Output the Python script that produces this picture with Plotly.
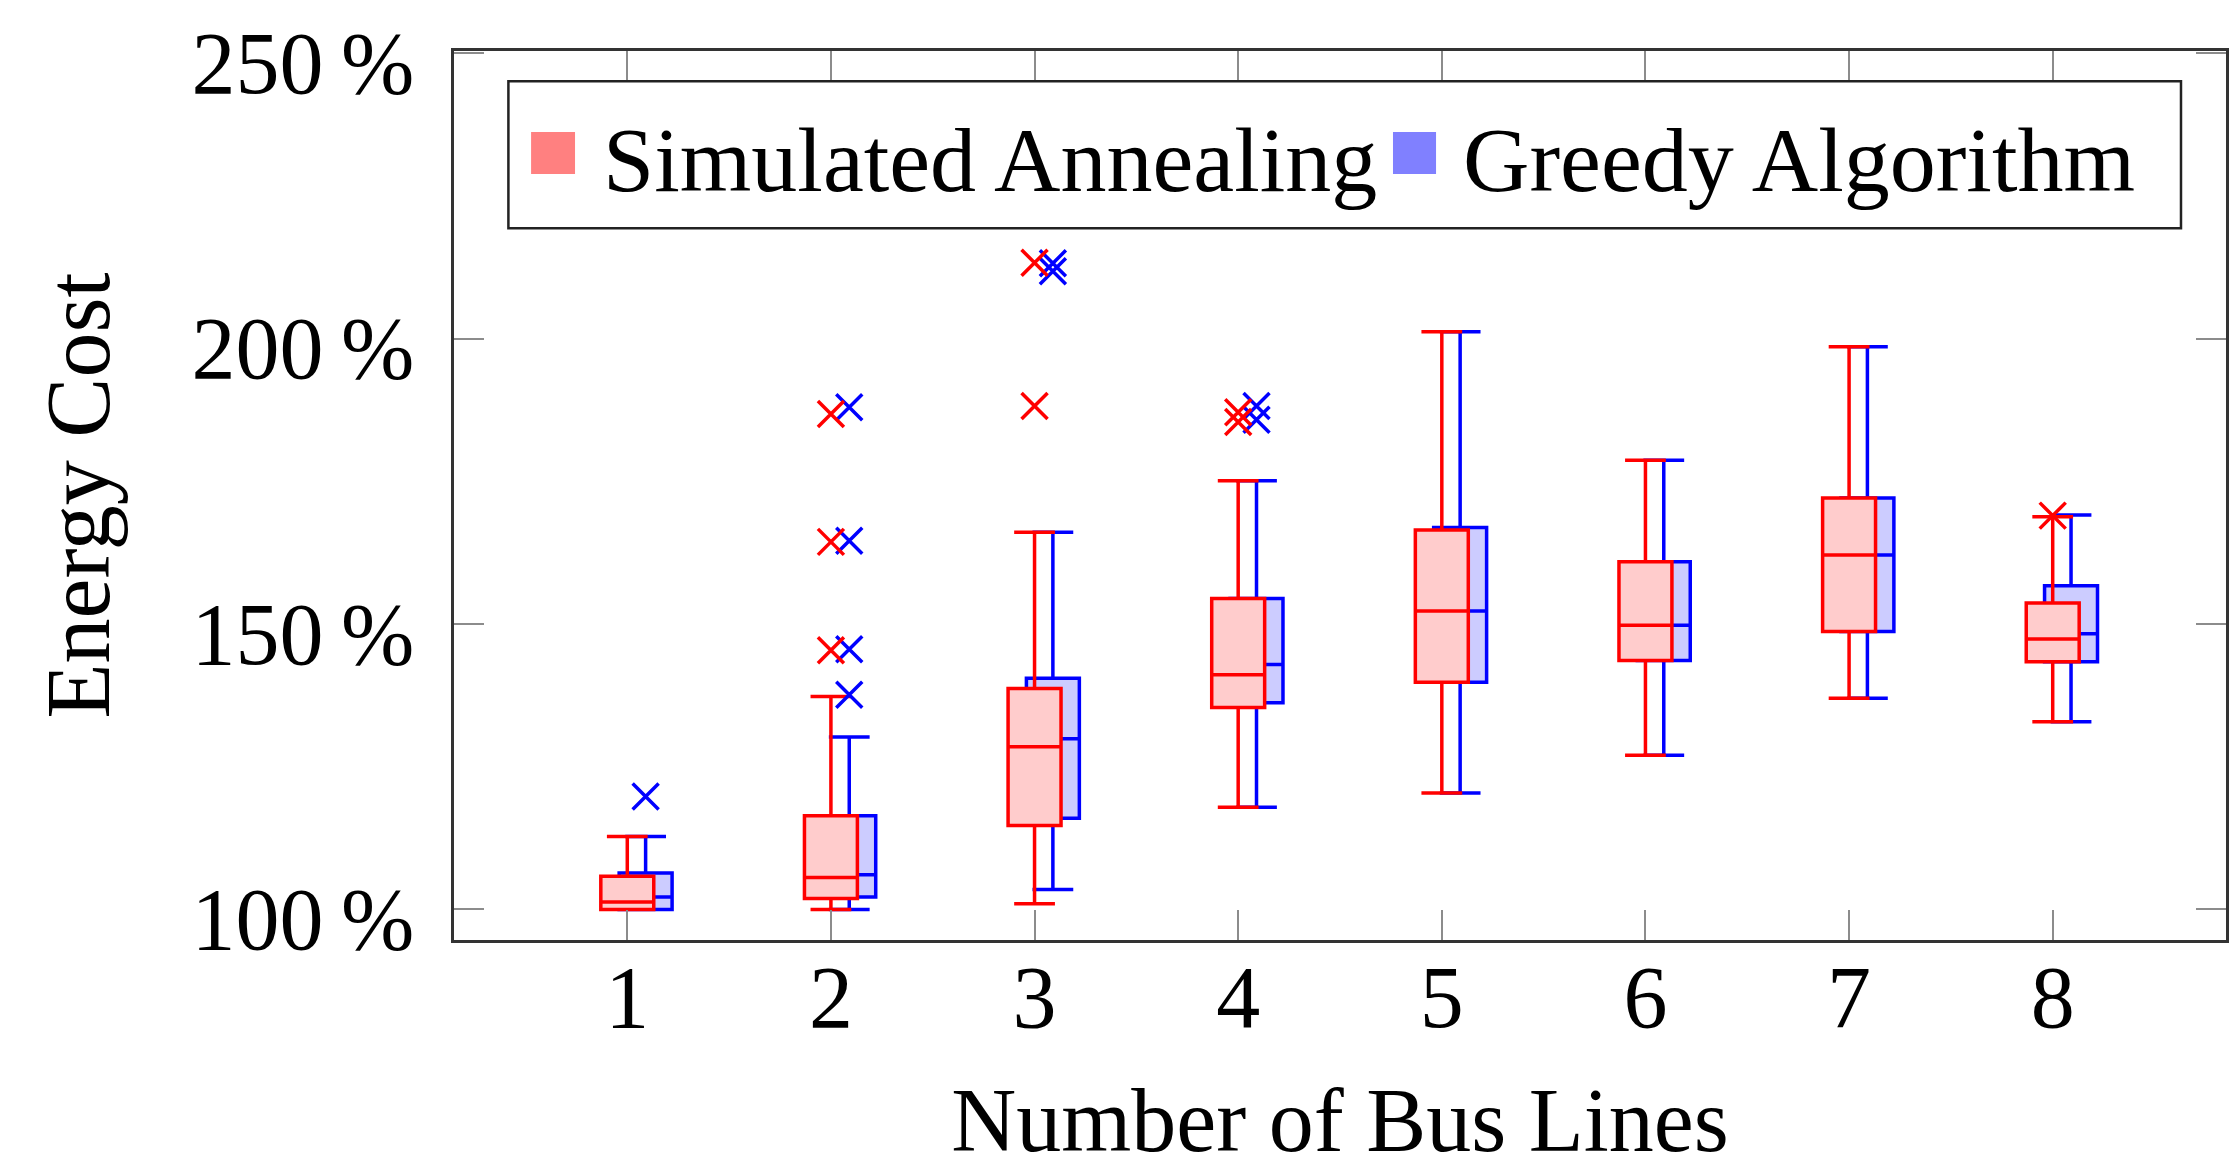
import plotly.graph_objects as go

# ---------------- data ----------------
categories = [1, 2, 3, 4, 5, 6, 7, 8]
tick_labels_x = ["1", "2", "3", "4", "5", "6", "7", "8"]
tick_vals_y = [100, 150, 200, 250]
tick_labels_y = ["100\u2009%", "150\u2009%", "200\u2009%", "250\u2009%"]

# Simulated Annealing
sa_lower = [100.0, 100.0, 101.0, 117.9, 120.4, 127.0, 137.0, 132.9]
sa_q1 = [100.0, 101.9, 114.7, 135.4, 139.8, 143.6, 148.7, 143.4]
sa_median = [101.3, 105.6, 128.5, 141.1, 152.3, 149.8, 162.1, 147.4]
sa_q3 = [105.8, 116.4, 138.7, 154.5, 166.5, 160.9, 172.1, 153.7]
sa_upper = [112.8, 137.3, 166.1, 175.1, 201.2, 178.7, 198.6, 168.8]
sa_outliers = [[], [186.8, 164.4, 145.4], [213.3, 188.2], [187.1, 185.4], [], [], [], [169.0]]

# Greedy Algorithm
gr_lower = [100.0, 100.0, 103.5, 117.9, 120.4, 127.0, 137.0, 132.9]
gr_q1 = [100.0, 102.2, 116.0, 136.2, 139.8, 143.6, 148.7, 143.4]
gr_median = [102.2, 106.1, 129.9, 142.9, 152.3, 149.8, 162.1, 148.3]
gr_q3 = [106.4, 116.4, 140.5, 154.5, 166.9, 160.9, 172.1, 156.7]
gr_upper = [112.8, 130.2, 166.1, 175.1, 201.2, 178.7, 198.6, 169.1]
gr_outliers = [[119.8], [188.0, 164.6, 145.6, 137.6], [213.2, 211.8], [188.2, 185.8], [], [], [], []]

series_names = ["Simulated Annealing", "Greedy Algorithm"]

# ---------------- style ----------------
FONT = "Liberation Serif"
RED, BLUE = "#ff0000", "#0000ff"
RED_FILL, BLUE_FILL = "#ffcccc", "#ccccff"
RED_LEG, BLUE_LEG = "#ff8080", "#8080ff"
SHIFT = 0.09
BOX_W = 0.26
LW = 3.5


def flat(outs, shift):
    xs, ys = [], []
    for c, vals in zip(categories, outs):
        for v in vals:
            xs.append(c + shift)
            ys.append(v)
    return xs, ys


fig = go.Figure()

specs = [
    (series_names[1], gr_lower, gr_q1, gr_median, gr_q3, gr_upper, gr_outliers, BLUE, BLUE_FILL, SHIFT),
    (series_names[0], sa_lower, sa_q1, sa_median, sa_q3, sa_upper, sa_outliers, RED, RED_FILL, 0.0),
]
for name, lo, q1, med, q3, up, outs, col, fill, shift in specs:
    fig.add_trace(go.Box(
        x=[c + shift for c in categories],
        lowerfence=lo, q1=q1, median=med, q3=q3, upperfence=up,
        width=BOX_W, whiskerwidth=0.77,
        line=dict(color=col, width=LW), fillcolor=fill,
        boxpoints=False, showlegend=False, name=name, hoverinfo="skip",
    ))
    ox, oy = flat(outs, shift)
    fig.add_trace(go.Scatter(
        x=ox, y=oy, mode="markers", showlegend=False, name=name,
        marker=dict(symbol="x-thin", size=26, color=col, line=dict(color=col, width=3.5)),
    ))

# legend entries (symbols drawn as larger squares below)
for name, lw in [(series_names[0], 760), (series_names[1], 708)]:
    fig.add_trace(go.Scatter(
        x=[None], y=[None], mode="markers", name=name, legendwidth=lw,
        marker=dict(symbol="square", size=16, color="rgba(0,0,0,0)"),
    ))

# legend frame and colour squares (paper coordinates)
fig.add_shape(type="rect", xref="paper", yref="paper", x0=0.0307, x1=0.9746,
              y0=0.8006, y1=0.9659, fillcolor="white",
              line=dict(color="#222222", width=2.5), layer="above")
for (x0, x1), col in [((0.0435, 0.0683), RED_LEG), ((0.5299, 0.5542), BLUE_LEG)]:
    fig.add_shape(type="rect", xref="paper", yref="paper", x0=x0, x1=x1,
                  y0=0.8616, y1=0.9089, fillcolor=col, line=dict(width=0), layer="above")

axis_common = dict(
    showline=True, linecolor="#333333", linewidth=3, mirror="ticks",
    ticks="inside", ticklen=30, tickwidth=2, tickcolor="#8c8c8c",
    showgrid=False, zeroline=False, automargin=False,
    ticklabeloverflow="allow",
    tickfont=dict(family=FONT, size=88, color="black"),
)

# the page body has an 8 px margin, so the figure is 8 px smaller
fig.update_layout(
    width=2230, height=1162,
    margin=dict(l=446, r=12, t=43, b=230),
    paper_bgcolor="white", plot_bgcolor="white",
    boxmode="overlay",
    font=dict(family=FONT, color="black"),
    xaxis=dict(
        range=[0.149, 8.851], tickvals=categories, ticktext=tick_labels_x,
        ticklabelstandoff=-22,
        title=dict(text="Number of Bus Lines", font=dict(family=FONT, size=90), standoff=74),
        **axis_common,
    ),
    yaxis=dict(
        range=[94.65, 250.4], tickvals=tick_vals_y, ticktext=tick_labels_y,
        ticklabelstandoff=19, ticklabelshift=9,
        title=dict(text="Energy Cost", font=dict(family=FONT, size=90), standoff=52),
        **axis_common,
    ),
    legend=dict(
        orientation="h", x=0.0305, y=0.958, xanchor="left", yanchor="top",
        bgcolor="rgba(0,0,0,0)", borderwidth=0,
        font=dict(family=FONT, size=92, color="black"),
        itemwidth=85, itemclick=False,
    ),
)

fig.write_html("out.html")
